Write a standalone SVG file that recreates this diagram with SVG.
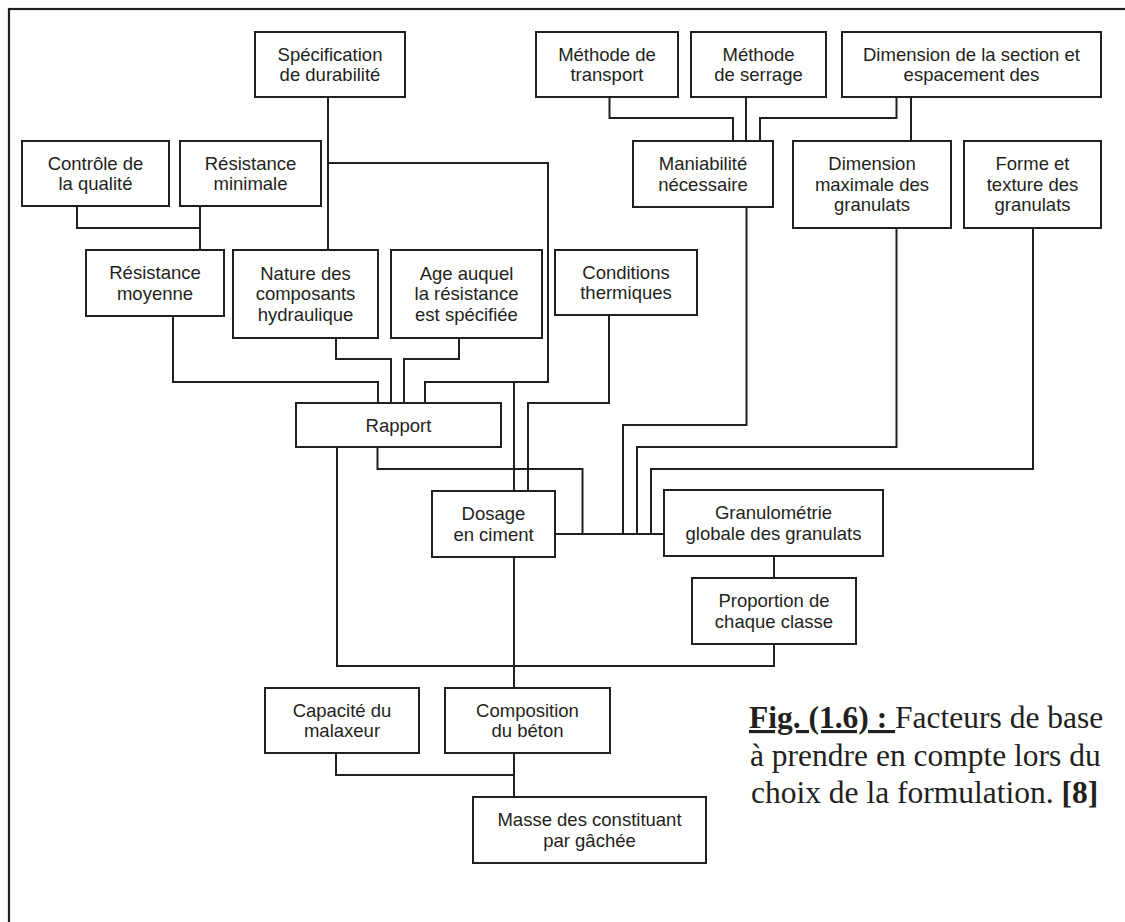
<svg xmlns="http://www.w3.org/2000/svg" width="1125" height="922" viewBox="0 0 1125 922">
<style>
  .box { fill: #ffffff; stroke: #231f20; stroke-width: 2; }
  .lbl { font-family: "Liberation Sans", Arial, sans-serif; font-size: 18.5px; fill: #231f20; text-anchor: middle; }
  .wire { fill: none; stroke: #231f20; stroke-width: 2; stroke-linejoin: miter; }
  .cap { font-family: "Liberation Serif", "Times New Roman", serif; font-size: 31.5px; fill: #231f20; }
</style>
<rect x="0" y="0" width="1125" height="922" fill="#ffffff"/>
<rect x="9" y="9" width="1140" height="940" fill="none" stroke="#231f20" stroke-width="2.2"/>

<g id="connectors">
  <path class="wire" d="M328,97 V250"/>
  <path class="wire" d="M328,163 H548 V382 H425 V403"/>
  <path class="wire" d="M514,382 V491"/>
  <path class="wire" d="M77,206 V228 H200"/>
  <path class="wire" d="M200,206 V250"/>
  <path class="wire" d="M173,316 V382 H378 V403"/>
  <path class="wire" d="M336,338 V359 H391 V403"/>
  <path class="wire" d="M459,338 V359 H404 V403"/>
  <path class="wire" d="M609,315 V403 H528 V491"/>
  <path class="wire" d="M609.5,97 V118 H733 V141"/>
  <path class="wire" d="M746,97 V141"/>
  <path class="wire" d="M896.5,97 V118 H760 V141"/>
  <path class="wire" d="M911,97 V141"/>
  <path class="wire" d="M746.5,207 V425 H623 V534"/>
  <path class="wire" d="M896.5,228 V447 H637 V534"/>
  <path class="wire" d="M1033,228 V469 H651 V534"/>
  <path class="wire" d="M377.5,447 V469 H582.5 V534"/>
  <path class="wire" d="M555,534 H664"/>
  <path class="wire" d="M774,556 V578"/>
  <path class="wire" d="M774,644 V666 H337 V447"/>
  <path class="wire" d="M514,557 V688"/>
  <path class="wire" d="M336,753 V775 H514"/>
  <path class="wire" d="M514,753 V797"/>
</g>

<g id="spec"><rect class="box" x="255" y="32" width="150" height="65"/><text class="lbl" x="330" y="60.5">Spécification</text><text class="lbl" x="330" y="81">de durabilité</text></g>
<g id="transport"><rect class="box" x="536" y="32" width="142" height="65"/><text class="lbl" x="607" y="60.5">Méthode de</text><text class="lbl" x="607" y="81">transport</text></g>
<g id="serrage"><rect class="box" x="691" y="32" width="135" height="65"/><text class="lbl" x="758.5" y="60.5">Méthode</text><text class="lbl" x="758.5" y="81">de serrage</text></g>
<g id="section"><rect class="box" x="842" y="32" width="259" height="65"/><text class="lbl" x="971.5" y="60.5">Dimension de la section et</text><text class="lbl" x="971.5" y="81">espacement des</text></g>
<g id="controle"><rect class="box" x="22" y="141" width="147" height="65"/><text class="lbl" x="95.5" y="169.5">Contrôle de</text><text class="lbl" x="95.5" y="190">la qualité</text></g>
<g id="resmin"><rect class="box" x="180" y="141" width="141" height="65"/><text class="lbl" x="250.5" y="169.5">Résistance</text><text class="lbl" x="250.5" y="190">minimale</text></g>
<g id="maniab"><rect class="box" x="633" y="141" width="140" height="66"/><text class="lbl" x="703" y="170">Maniabilité</text><text class="lbl" x="703" y="190.5">nécessaire</text></g>
<g id="dimmax"><rect class="box" x="793" y="141" width="158" height="87"/><text class="lbl" x="872" y="170">Dimension</text><text class="lbl" x="872" y="190.5">maximale des</text><text class="lbl" x="872" y="211">granulats</text></g>
<g id="forme"><rect class="box" x="964" y="141" width="137" height="87"/><text class="lbl" x="1032.5" y="170">Forme et</text><text class="lbl" x="1032.5" y="190.5">texture des</text><text class="lbl" x="1032.5" y="211">granulats</text></g>
<g id="resmoy"><rect class="box" x="86" y="250" width="138" height="66"/><text class="lbl" x="155" y="279">Résistance</text><text class="lbl" x="155" y="299.5">moyenne</text></g>
<g id="nature"><rect class="box" x="233" y="250" width="145" height="88"/><text class="lbl" x="305.5" y="279.5">Nature des</text><text class="lbl" x="305.5" y="300">composants</text><text class="lbl" x="305.5" y="320.5">hydraulique</text></g>
<g id="age"><rect class="box" x="391" y="250" width="151" height="88"/><text class="lbl" x="466.5" y="279.5">Age auquel</text><text class="lbl" x="466.5" y="300">la résistance</text><text class="lbl" x="466.5" y="320.5">est spécifiée</text></g>
<g id="cond"><rect class="box" x="555" y="250" width="142" height="65"/><text class="lbl" x="626" y="278.5">Conditions</text><text class="lbl" x="626" y="299">thermiques</text></g>
<g id="rapport"><rect class="box" x="296" y="403" width="205" height="44"/><text class="lbl" x="398.5" y="431.5">Rapport</text></g>
<g id="dosage"><rect class="box" x="432" y="491" width="123" height="66"/><text class="lbl" x="493.5" y="520">Dosage</text><text class="lbl" x="493.5" y="540.5">en ciment</text></g>
<g id="granulo"><rect class="box" x="664" y="490" width="219" height="66"/><text class="lbl" x="773.5" y="519">Granulométrie</text><text class="lbl" x="773.5" y="539.5">globale des granulats</text></g>
<g id="proportion"><rect class="box" x="692" y="578" width="164" height="66"/><text class="lbl" x="774" y="607">Proportion de</text><text class="lbl" x="774" y="627.5">chaque classe</text></g>
<g id="capacite"><rect class="box" x="265" y="688" width="154" height="65"/><text class="lbl" x="342" y="716.5">Capacité du</text><text class="lbl" x="342" y="737">malaxeur</text></g>
<g id="composition"><rect class="box" x="445" y="688" width="165" height="65"/><text class="lbl" x="527.5" y="716.5">Composition</text><text class="lbl" x="527.5" y="737">du béton</text></g>
<g id="masse"><rect class="box" x="473" y="797" width="233" height="66"/><text class="lbl" x="589.5" y="826">Masse des constituant</text><text class="lbl" x="589.5" y="846.5">par gâchée</text></g>

<g id="caption">
  <text class="cap" x="749" y="728"><tspan font-weight="bold" text-decoration="underline">Fig. (1.6) : </tspan>Facteurs de base</text>
  <text class="cap" x="750" y="766">à prendre en compte lors du</text>
  <text class="cap" x="751" y="803">choix de la formulation. <tspan font-weight="bold">[8]</tspan></text>
</g>
</svg>
